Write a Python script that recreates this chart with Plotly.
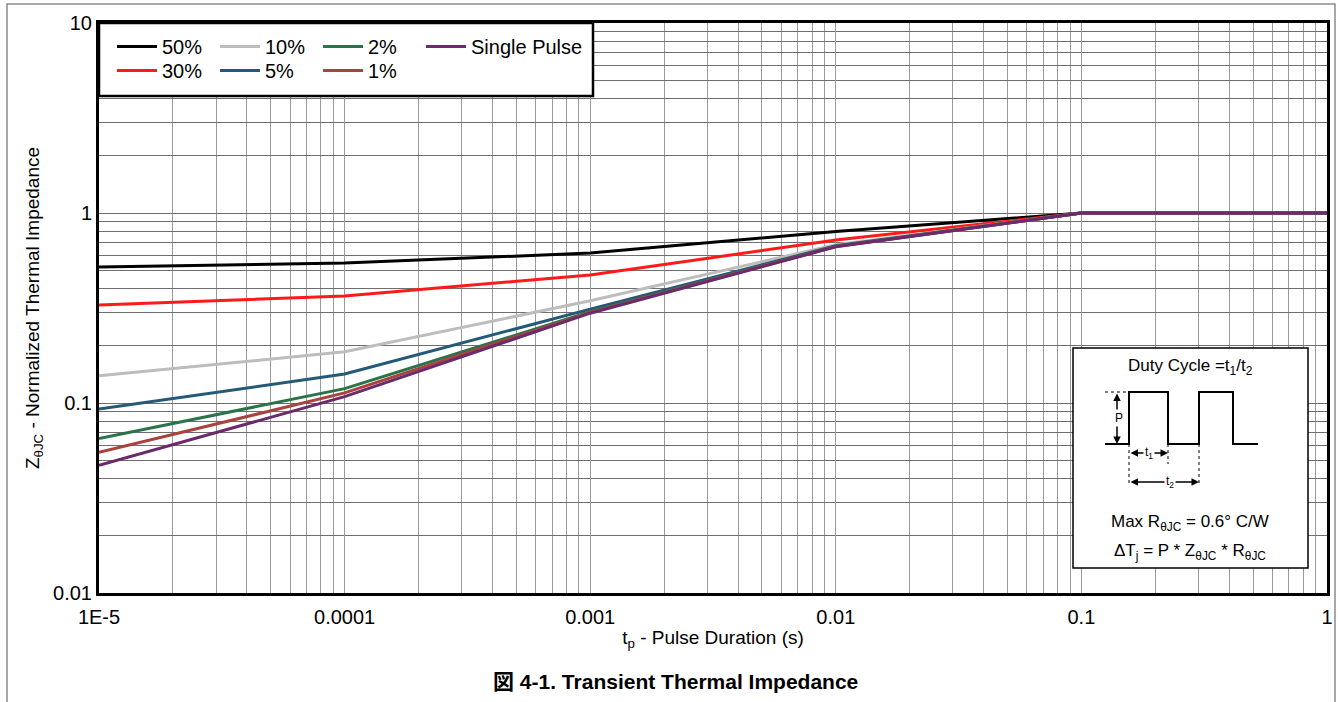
import plotly.graph_objects as go

# 脉冲宽度 (s)
tp = [1e-5, 1e-4, 1e-3, 1e-2, 0.1, 1]

# 各占空比曲线 (归一化热阻)
z_50 = [0.52, 0.545, 0.615, 0.80, 1.0, 1.0]
z_30 = [0.328, 0.366, 0.472, 0.72, 1.0, 1.0]
z_10 = [0.139, 0.186, 0.345, 0.68, 1.0, 1.0]
z_5 = [0.093, 0.142, 0.312, 0.672, 1.0, 1.0]
z_2 = [0.065, 0.119, 0.302, 0.668, 1.0, 1.0]
z_1 = [0.055, 0.113, 0.300, 0.666, 1.0, 1.0]
z_single = [0.047, 0.108, 0.297, 0.664, 1.0, 1.0]

x_ticks = [1e-5, 1e-4, 1e-3, 1e-2, 0.1, 1]
x_labels = ["1E-5", "0.0001", "0.001", "0.01", "0.1", "1"]
y_ticks = [0.01, 0.1, 1, 10]
y_labels = ["0.01", "0.1", "1", "10"]

W, H = 1338, 702
L, R, T, B = 99, 1327, 23, 593  # 绘图区像素边界

FONT = "Liberation Sans, Arial, Noto Sans CJK JP, sans-serif"


def px(x):
    return (x - L) / (R - L)


def py(y):
    return (B - y) / (B - T)


series = [
    ("50%", z_50, "#000000", "legend"),
    ("30%", z_30, "#ff1a1a", "legend2"),
    ("10%", z_10, "#bdbdbd", "legend"),
    ("5%", z_5, "#245a78", "legend2"),
    ("2%", z_2, "#2b7449", "legend"),
    ("1%", z_1, "#a8433d", "legend2"),
    ("Single Pulse", z_single, "#6b2a6c", "legend"),
]

fig = go.Figure()
for name, z, color, lg in series:
    fig.add_trace(go.Scatter(
        x=tp, y=z, mode="lines", name=name, legend=lg,
        legendwidth=140 if name == "Single Pulse" else None,
        line=dict(color=color, width=3),
    ))

shapes = []
# 页面外框
shapes.append(dict(type="rect", xref="paper", yref="paper",
                   x0=px(7), x1=px(1335), y0=py(4), y1=py(712),
                   line=dict(color="#8c8c8c", width=1.5), layer="below"))
# 图例框
shapes.append(dict(type="rect", xref="paper", yref="paper",
                   x0=px(99), x1=px(593), y0=py(23), y1=py(96),
                   fillcolor="white", line=dict(color="black", width=2.5), layer="above"))
# 插图框
shapes.append(dict(type="rect", xref="paper", yref="paper",
                   x0=px(1073), x1=px(1308), y0=py(348), y1=py(568),
                   fillcolor="white", line=dict(color="black", width=1.5), layer="above"))

# 脉冲波形
wave = [(1105, 444), (1129, 444), (1129, 392), (1168, 392), (1168, 444),
        (1199, 444), (1199, 392), (1233, 392), (1233, 444), (1258, 444)]
path = "M " + " L ".join(f"{px(a):.5f},{py(b):.5f}" for a, b in wave)
shapes.append(dict(type="path", xref="paper", yref="paper", path=path,
                   line=dict(color="black", width=2), layer="above"))

# 虚线
for x0, y0, x1, y1 in [(1105, 392, 1129, 392), (1129, 444, 1129, 484),
                       (1168, 444, 1168, 464), (1199, 444, 1199, 484)]:
    shapes.append(dict(type="line", xref="paper", yref="paper",
                       x0=px(x0), y0=py(y0), x1=px(x1), y1=py(y1),
                       line=dict(color="black", width=1, dash="dot"), layer="above"))

annotations = []
# 双向箭头: P, t1, t2
for (xa, ya, xb, yb) in [(1117, 392, 1117, 444), (1129, 453, 1168, 453), (1129, 482, 1199, 482)]:
    annotations.append(dict(xref="paper", yref="paper", x=px(xb), y=py(yb),
                            ax=xa - xb, ay=ya - yb, axref="pixel", ayref="pixel",
                            text="", showarrow=True, arrowhead=2, arrowsize=1,
                            arrowwidth=1.5, arrowside="end+start", arrowcolor="black"))

small = dict(family=FONT, size=12, color="black")
mid = dict(family=FONT, size=17, color="black")
annotations += [
    dict(x=px(1119), y=py(418), text="P", font=small, bgcolor="white"),
    dict(x=px(1149), y=py(453), text="t<sub>1</sub>", font=small, bgcolor="white"),
    dict(x=px(1170), y=py(482), text="t<sub>2</sub>", font=small, bgcolor="white"),
    dict(x=px(1190), y=py(367), text="Duty Cycle =t<sub>1</sub>/t<sub>2</sub>", font=mid),
    dict(x=px(1190), y=py(523), text="Max R<sub>θJC</sub> = 0.6° C/W", font=mid),
    dict(x=px(1190), y=py(552), text="ΔT<sub>j</sub> = P * Z<sub>θJC</sub> * R<sub>θJC</sub>", font=mid),
    # 图标题
    dict(x=px(675), y=py(681), text="<b>図 4-1. Transient Thermal Impedance</b>",
         font=dict(family=FONT, size=21, color="black")),
]
for a in annotations:
    a.setdefault("xref", "paper")
    a.setdefault("yref", "paper")
    a.setdefault("showarrow", False)
    a.setdefault("xanchor", "center")
    a.setdefault("yanchor", "middle")

legend_style = dict(
    orientation="h", xanchor="left", yanchor="top",
    bgcolor="rgba(0,0,0,0)", borderwidth=0,
    font=dict(family=FONT, size=20, color="black"),
    itemwidth=40, entrywidth=48, entrywidthmode="pixels",
    itemclick=False,
)

fig.update_layout(
    width=W, height=H,
    margin=dict(l=L, r=W - R, t=T, b=H - B, pad=0),
    paper_bgcolor="white", plot_bgcolor="white",
    font=dict(family=FONT, size=20, color="black"),
    shapes=shapes, annotations=annotations,
    legend=dict(x=px(112), y=py(27), **legend_style),
    legend2=dict(x=px(112), y=py(51), **legend_style),
    xaxis=dict(
        type="log", range=[-5, 0], automargin=False,
        tickvals=x_ticks, ticktext=x_labels, ticklabelstandoff=4,
        showgrid=True, gridcolor="#9a9a9a", gridwidth=1,
        minor=dict(dtick="D1", showgrid=True, gridcolor="#9a9a9a", gridwidth=1),
        showline=True, mirror=True, linecolor="black", linewidth=3,
        ticks="", zeroline=False,
        title=dict(text="t<sub>p</sub> - Pulse Duration (s)", standoff=4,
                   font=dict(family=FONT, size=19)),
    ),
    yaxis=dict(
        type="log", range=[-2, 1], automargin=False,
        tickvals=y_ticks, ticktext=y_labels,
        showgrid=True, gridcolor="#6e6e6e", gridwidth=1,
        minor=dict(dtick="D1", showgrid=True, gridcolor="#6e6e6e", gridwidth=1),
        showline=True, mirror=True, linecolor="black", linewidth=3,
        ticks="", zeroline=False,
        title=dict(text="Z<sub>θJC</sub> - Normalized Thermal Impedance", standoff=9,
                   font=dict(family=FONT, size=19)),
    ),
)

# 去掉页面默认边距, 隐藏工具栏
fig.write_html("out.html", config={"displayModeBar": False},
               post_script="document.body.style.margin='0';")
